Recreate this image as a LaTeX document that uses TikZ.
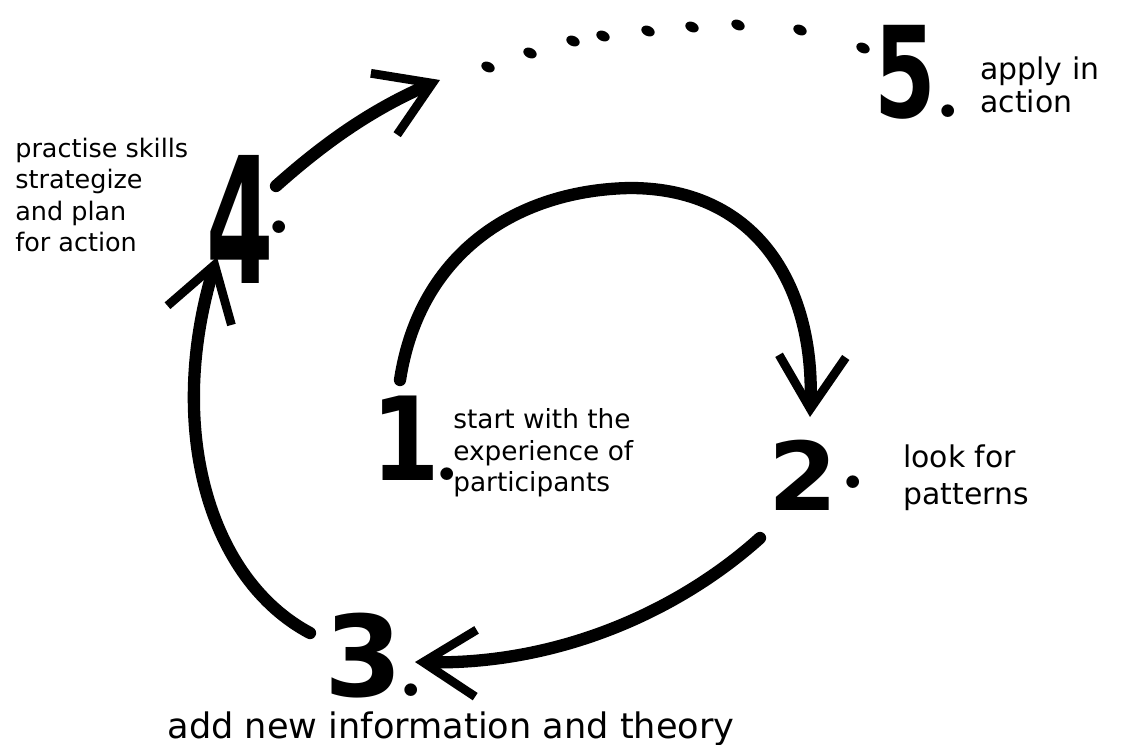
\documentclass[tikz,border=0pt]{standalone}
\usepackage{fontspec}
\usepackage{graphicx}
\newfontfamily\handfont{DejaVu Sans}
\usetikzlibrary{arrows.meta}
\newcommand\stepdot[1][0pt]{\raisebox{#1}{\makebox[6pt][c]{\rmfamily\bfseries\fontsize{50}{50}\selectfont.}}}
\tikzset{
  cyclearrow/.style={line width=7pt,line cap=round,-{Straight Barb[length=30pt,width=38pt,line width=5pt]}},
  stepnum/.style={inner sep=0pt,anchor=base west},
  steptext/.style={inner sep=0pt,align=left,anchor=west},
}
\begin{document}
\begin{tikzpicture}[x=0.02cm,y=-0.02cm]
\useasboundingbox (0,0) rectangle (1131,744);
%step numbers
\node[stepnum,font=\handfont\bfseries\fontsize{66}{66}\selectfont] (n1) at (371,480) {\scalebox{0.85}[1]{1}\kern1pt\stepdot};
\node[stepnum,font=\handfont\bfseries\fontsize{54}{54}\selectfont] (n2) at (768,510) {\scalebox{1.05}[1]{2}\kern6pt\stepdot[12pt]};
\node[stepnum,font=\handfont\bfseries\fontsize{64}{64}\selectfont] (n3) at (324,696) {3\kern2pt\stepdot};
\node[stepnum,font=\handfont\bfseries\fontsize{100}{100}\selectfont] (n4) at (206,283) {\scalebox{0.55}[1]{4}\stepdot[28pt]};
\node[stepnum,font=\handfont\bfseries\fontsize{72}{72}\selectfont] (n5) at (874,117) {\scalebox{0.7}[1]{5}\kern4pt\stepdot};
%texts
\node[steptext,font=\handfont\fontsize{15}{18}\selectfont] (t1) at (453,453) {start with the\\experience of\\participants};
\node[steptext,font=\handfont\fontsize{17}{21}\selectfont] (t2) at (903,478) {look for\\patterns};
\node[inner sep=0pt,anchor=base,font=\handfont\fontsize{20}{20}\selectfont] (t3) at (451,738) {add new information and theory};
\node[steptext,font=\handfont\fontsize{14.5}{18}\selectfont] (t4) at (15,195) {practise skills\\strategize\\and plan\\for action};
\node[steptext,font=\handfont\fontsize{17}{19}\selectfont] (t5) at (980,85) {apply in\\action};
%arrow ends
\coordinate (a1) at (400,380);
\coordinate (a2) at (810,417);
\coordinate (b1) at (760,538);
\coordinate (b2) at (415,662);
\coordinate (c1) at (310,633);
\coordinate (c2) at (217,257);
\coordinate (d1) at (276,186);
\coordinate (d2) at (440,80);
%the cycle
\draw[cyclearrow] (a1) .. controls (420,250) and (520,190) .. (630,188) .. controls (760,188) and (815,290) .. (a2);
\draw[cyclearrow] (b1) .. controls (680,610) and (560,665) .. (b2);
\draw[cyclearrow] (c1) .. controls (210,580) and (165,430) .. (c2);
\draw[cyclearrow] (d1) .. controls (322,145) and (370,110) .. (d2);
%dots towards 5
\foreach \p in {(488,67),(530,53),(573,41),(603,36),(648,31),(692,27),(738,25),(800,30),(863,48)}
  \fill \p circle[x radius=7,y radius=5,rotate=-25];
\end{tikzpicture}
\end{document}
